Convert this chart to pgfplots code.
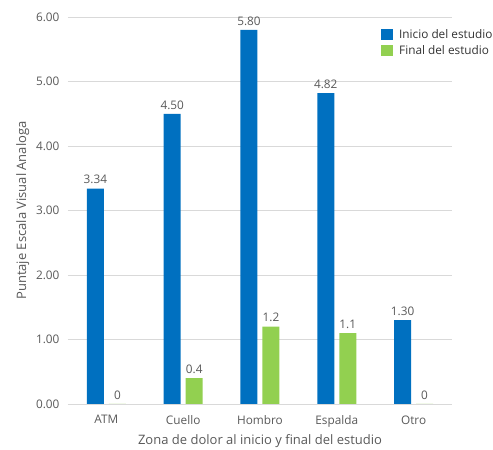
\documentclass[border=0pt]{standalone}
\usepackage{pgfplots}
\pgfplotsset{compat=1.18}
\usepackage{fontspec}
\setmainfont{Open Sans}
\definecolor{cblue}{HTML}{0070C0}
\definecolor{cgreen}{HTML}{92D050}
\definecolor{ctext}{HTML}{595959}
\definecolor{cgrid}{HTML}{D9D9D9}
\begin{document}
\begin{tikzpicture}
\begin{axis}[
  at={(0,0)}, anchor=south west,
  scale only axis, width=384pt, height=387pt,
  ybar=5pt, bar width=17pt,
  xmin=-0.5, xmax=4.5, ymin=0, ymax=6,
  xtick={0,1,2,3,4},
  xticklabels={ATM,Cuello,Hombro,Espalda,Otro},
  ytick={0,1,2,3,4,5,6},
  /pgf/number format/assume math mode=true,
  yticklabel style={/pgf/number format/fixed,/pgf/number format/fixed zerofill,/pgf/number format/precision=2},
  ymajorgrids, grid style={cgrid, line width=0.8pt},
  axis line style={draw=none},
  axis x line*=bottom, axis y line*=left,
  major tick length=0pt,
  tick label style={font=\fontsize{11.8}{13}\selectfont, text=ctext},
  xticklabel style={yshift=-8pt},
  yticklabel style={xshift=-5pt},
  xlabel={Zona de dolor al inicio y final del estudio},
  ylabel={Puntaje Escala Visual Analoga},
  label style={font=\fontsize{13}{15}\selectfont, text=ctext},
  xlabel style={yshift=0pt},
  ylabel style={yshift=0pt},
  nodes near coords,
  every node near coord/.append style={font=\fontsize{11.8}{13}\selectfont, text=ctext, yshift=1pt},
  legend style={at={(313/384,377/387)}, anchor=north west, draw=none, fill=none,
    font=\fontsize{11.8}{13}\selectfont, text=black!80, row sep=2pt,
    legend cell align=left, inner sep=0pt},
  legend image code/.code={\fill[#1] (0pt,-5.5pt) rectangle (11.5pt,5.5pt); \path (16pt,0pt);},
]
\addplot[fill=cblue, draw=none,
  nodes near coords style={/pgf/number format/fixed,/pgf/number format/fixed zerofill,/pgf/number format/precision=2}]
  coordinates {(0,3.34) (1,4.50) (2,5.80) (3,4.82) (4,1.30)};
\addplot[fill=cgreen, draw=none,
  nodes near coords style={/pgf/number format/fixed,/pgf/number format/precision=1}]
  coordinates {(0,0) (1,0.4) (2,1.2) (3,1.1) (4,0)};
\legend{Inicio del estudio, Final del estudio}
\draw[cgrid, line width=0.8pt] (axis cs:-0.5,0) -- (axis cs:4.5,0);
\end{axis}
\pgfresetboundingbox
\path[use as bounding box] (-68pt,-46pt) rectangle (425pt,404pt);
\end{tikzpicture}
\end{document}
